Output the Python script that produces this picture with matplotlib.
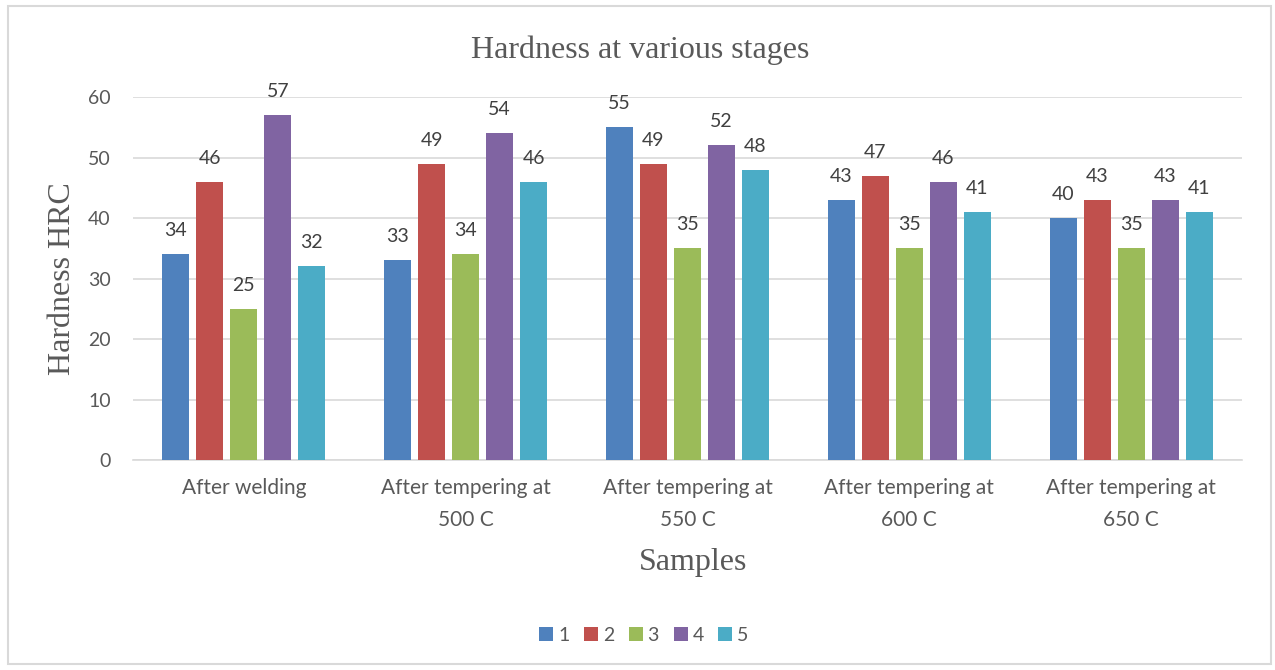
import numpy as np
import matplotlib.pyplot as plt
from matplotlib.patches import Rectangle

stages = ['After welding', 'After tempering at\n500 C', 'After tempering at\n550 C',
          'After tempering at\n600 C', 'After tempering at\n650 C']
samples = ['1', '2', '3', '4', '5']
s1 = [34, 33, 55, 43, 40]
s2 = [46, 49, 49, 47, 43]
s3 = [25, 34, 35, 35, 35]
s4 = [57, 54, 52, 46, 43]
s5 = [32, 46, 48, 41, 41]
series = [s1, s2, s3, s4, s5]
colors = ['#4F81BD', '#C0504D', '#9BBB59', '#8064A2', '#4BACC6']

txt = '#595959'
sans = ['Lato', 'DejaVu Sans']
serif = ['Liberation Serif', 'DejaVu Serif']

fig = plt.figure(figsize=(12.75, 6.7), dpi=100)
ax = fig.add_axes([0.1043, 0.3134, 0.8698, 0.5418])

# light border round the whole chart
fig.patches.append(Rectangle((8 / 1275, 6 / 670), 1263 / 1275, 658 / 670,
                             transform=fig.transFigure, fill=False,
                             edgecolor='#D9D9D9', linewidth=1.5))

x = np.arange(len(stages))
step = 0.1533
width = 0.122
for i, (vals, c) in enumerate(zip(series, colors)):
    pos = x + (i - 2) * step
    ax.bar(pos, vals, width, color=c, label=samples[i], zorder=3)
    for p, v in zip(pos, vals):
        ax.annotate(str(v), (p, v), xytext=(0, 13), textcoords='offset points',
                    ha='center', va='baseline', fontsize=14, color='#404040',
                    family=sans)

ax.set_xlim(-0.5, 4.5)
ax.set_ylim(0, 60)
ax.set_yticks(range(0, 61, 10))
ax.yaxis.grid(True, color='#D9D9D9', linewidth=1.2, zorder=0)
for side in ['top', 'right', 'left']:
    ax.spines[side].set_visible(False)
ax.spines['bottom'].set_color('#D9D9D9')
ax.spines['bottom'].set_linewidth(1.2)
ax.tick_params(axis='both', length=0, colors=txt)
ax.tick_params(axis='y', pad=16, labelsize=14)
ax.tick_params(axis='x', pad=13, labelsize=15)
ax.set_xticks(x)
ax.set_xticklabels(stages, family=sans, linespacing=1.75)
for lab in ax.get_yticklabels():
    lab.set_family(sans)

fig.text(0.502, 0.9134, 'Hardness at various stages', ha='center', va='baseline',
         fontsize=23, color=txt, family=serif)
fig.text(0.5435, 0.1493, 'Samples', ha='center', va='baseline',
         fontsize=23, color=txt, family=serif)
fig.text(0.049, 0.5843, 'Hardness HRC', ha='center', va='center', rotation=90,
         fontsize=23, color=txt, family=serif)

ax.legend(loc='center', bbox_to_anchor=(0.505, 0.052), bbox_transform=fig.transFigure,
          ncol=5, frameon=False, handlelength=0.72, handleheight=0.72,
          handletextpad=0.25, columnspacing=0.75,
          prop={'family': sans, 'size': 14}, labelcolor=txt)

fig.savefig('out.png', dpi=100)
